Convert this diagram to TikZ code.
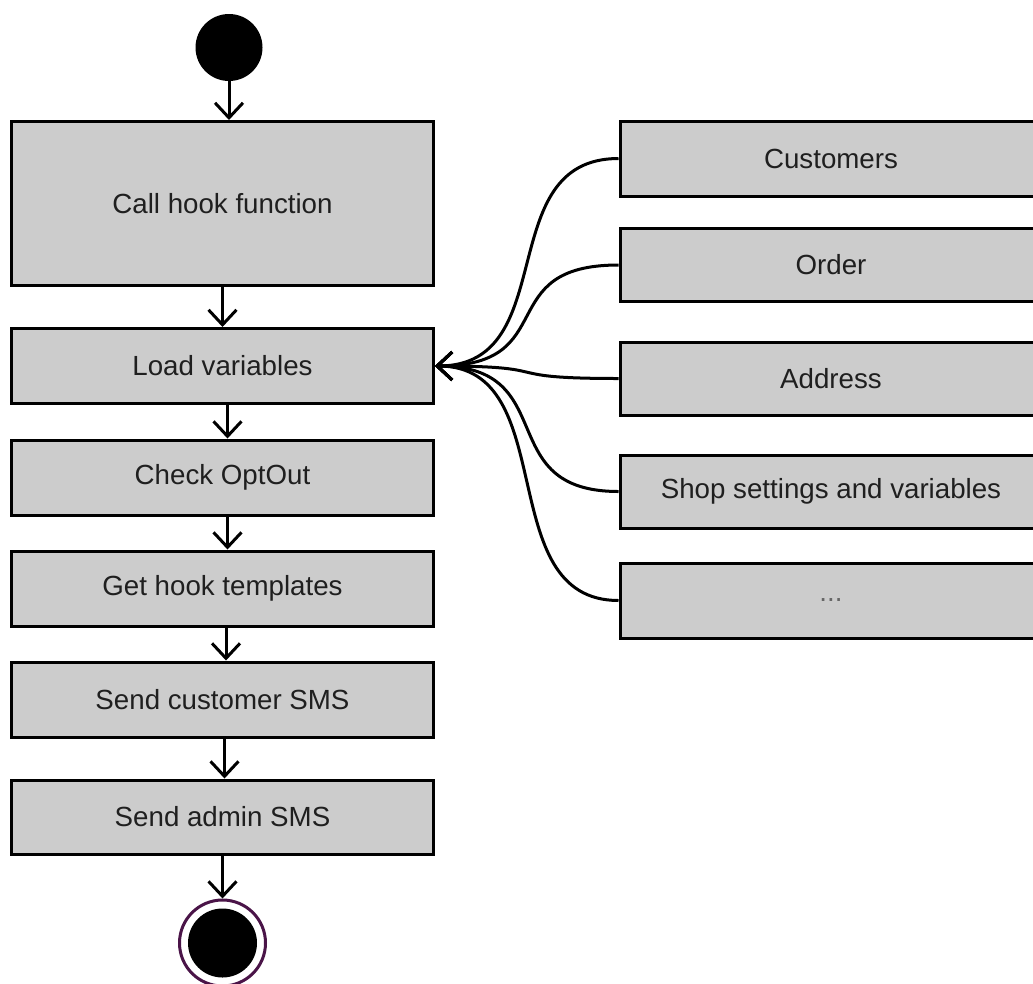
\documentclass[tikz,border=0pt]{standalone}
\usepackage{fontspec}
\setmainfont{Liberation Sans}
\usetikzlibrary{arrows.meta,calc}
\definecolor{boxgray}{HTML}{CCCCCC}
\definecolor{ringpurple}{HTML}{4A1448}
\begin{document}
\begin{tikzpicture}[x=1pt,y=-1pt,
  actbox/.style={draw=black,fill=boxgray,line width=3pt,minimum width=422pt,inner sep=0pt,
    font=\fontsize{27.7}{31}\selectfont,text=black!88},
  flow/.style={line width=3pt,-{Straight Barb[length=15pt,width=28pt,line width=3pt]}},
  link/.style={line width=3pt,-{Straight Barb[length=15pt,width=28pt,line width=3pt]}}]
\useasboundingbox (0,0) rectangle (1033,983);
\clip (0,0) rectangle (1033,983);
% start
\node[circle,fill=black,minimum size=67pt,inner sep=0pt] (start) at (229,47.5) {};
% left column
\node[actbox,minimum height=164pt] (b1) at (222.5,203.5) {Call hook function};
\node[actbox,minimum height=75pt] (b2) at (222.5,366) {Load variables};
\node[actbox,minimum height=75pt] (b3) at (222.5,477.5) {Check OptOut};
\node[actbox,minimum height=75pt] (b4) at (222.5,588.5) {Get hook templates};
\node[actbox,minimum height=75pt] (b5) at (222.5,699.5) {Send customer SMS};
\node[actbox,minimum height=74pt] (b6) at (222.5,817) {Send admin SMS};
% end
\node[circle,draw=ringpurple,line width=3pt,fill=white,minimum size=86pt,inner sep=0pt] (endo) at (222.5,943) {};
\node[circle,fill=black,minimum size=69pt,inner sep=0pt] (endi) at (endo.center) {};
% right column
\node[actbox,minimum height=75pt] (r1) at (831,158.5) {Customers};
\node[actbox,minimum height=73pt] (r2) at (831,265) {Order};
\node[actbox,minimum height=73pt] (r3) at (831,378.5) {Address};
\node[actbox,minimum height=73pt] (r4) at (831,491.5) {Shop settings and variables};
\node[actbox,minimum height=75pt] (r5) at (831,600.5) {\textcolor{black!60}{...}};
% vertical flow
\draw[flow] (start.south) -- (start.south |- b1.north);
\draw[flow] (b1.south) -- (b2.north);
\draw[flow] ([xshift=5pt]b2.south) -- ([xshift=5pt]b3.north);
\draw[flow] ([xshift=5pt]b3.south) -- ([xshift=5pt]b4.north);
\draw[flow] ([xshift=3.5pt]b4.south) -- ([xshift=3.5pt]b5.north);
\draw[flow] ([xshift=2pt]b5.south) -- ([xshift=2pt]b6.north);
\draw[flow] (b6.south) -- (endo.north);
% curved links
\draw[link] (r1.west) .. controls +(-128,0) and +(128,0) .. (b2.east);
\draw[link] (r2.west) .. controls +(-128,0) and +(128,0) .. (b2.east);
\draw[link] (r3.west) .. controls +(-128,0) and +(128,0) .. (b2.east);
\draw[link] (r4.west) .. controls +(-128,0) and +(128,0) .. (b2.east);
\draw[link] (r5.west) .. controls +(-128,0) and +(128,0) .. (b2.east);
\end{tikzpicture}
\end{document}
